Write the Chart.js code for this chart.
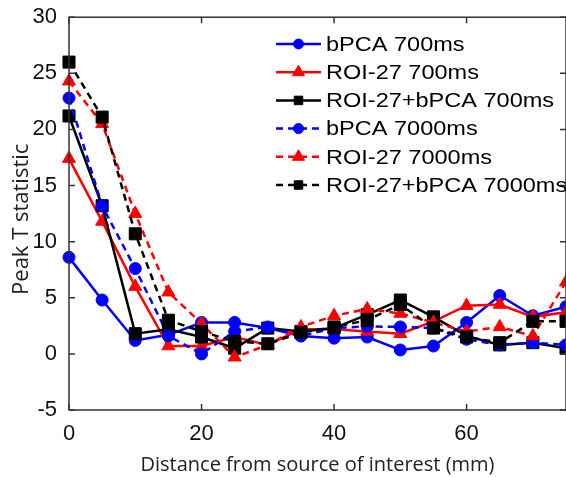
<!DOCTYPE html>
<html>
<head>
<meta charset="utf-8">
<script src="https://cdn.jsdelivr.net/npm/chart.js@4"></script>
<style>
  html, body { margin: 0; padding: 0; background: #fff; overflow: hidden; }
  #wrap { width: 600px; height: 477px; }
</style>
</head>
<body>
<div id="wrap"><canvas id="c" width="600" height="477"></canvas></div>
<script>
// values (x in mm)
const distances = [0, 5, 10, 15, 20, 25, 30, 35, 40, 45, 50, 55, 60, 65, 70, 75];
const bpca700 = [8.6, 4.8, 1.2, 1.7, 2.8, 2.8, 2.3, 1.6, 1.4, 1.5, 0.35, 0.7, 2.8, 5.2, 3.4, 4.2];
const roi700 = [17.4, 11.8, 6.0, 0.7, 0.7, 1.5, 0.8, 2.2, 2.2, 2.0, 1.8, 2.9, 4.3, 4.4, 3.3, 3.7];
const roiBpca700 = [21.2, 13.2, 1.8, 2.2, 1.5, 0.5, 2.3, 2.0, 2.3, 3.5, 4.8, 3.3, 1.6, 0.8, 1.0, 0.5];
const bpca7000 = [22.8, 13.2, 7.6, 1.6, 0.0, 2.0, 2.4, 1.6, 2.3, 2.45, 2.4, 2.3, 1.3, 0.8, 1.0, 0.8];
const roi7000 = [24.3, 20.5, 12.5, 5.5, 2.7, -0.3, 0.8, 2.4, 3.4, 4.0, 3.6, 2.8, 2.0, 2.4, 1.6, 6.4];
const roiBpca7000 = [26.0, 21.1, 10.7, 3.0, 2.0, 1.1, 0.9, 1.9, 2.4, 3.0, 4.4, 2.3, 1.5, 1.0, 2.9, 2.9];

const seriesNames = ['bPCA 700ms', 'ROI-27 700ms', 'ROI-27+bPCA 700ms',
                     'bPCA 7000ms', 'ROI-27 7000ms', 'ROI-27+bPCA 7000ms'];
const xTicks = [0, 20, 40, 60];
const yTicks = [-5, 0, 5, 10, 15, 20, 25, 30];

const BLUE = '#0000ff', RED = '#ff0000', BLACK = '#000000';
const AXIS = '#333333';
const DASH = [7, 5];

const styles = [
  { color: BLUE, point: 'circle', r: 6, dash: [] },
  { color: RED, point: 'triangle', r: 7.5, dash: [] },
  { color: BLACK, point: 'rect', r: 8.5, dash: [] },
  { color: BLUE, point: 'circle', r: 6, dash: DASH },
  { color: RED, point: 'triangle', r: 7.5, dash: DASH },
  { color: BLACK, point: 'rect', r: 8.5, dash: DASH },
];
const values = [bpca700, roi700, roiBpca700, bpca7000, roi7000, roiBpca7000];

const datasets = values.map((vals, i) => ({
  label: seriesNames[i],
  data: distances.map((d, j) => ({ x: d, y: vals[j] })),
  borderColor: styles[i].color,
  backgroundColor: styles[i].color,
  borderWidth: 2.5,
  borderDash: styles[i].dash,
  pointStyle: styles[i].point,
  pointRadius: styles[i].r,
  pointBorderWidth: 1,
  pointBorderColor: styles[i].color,
  pointBackgroundColor: styles[i].color,
  tension: 0,
  clip: false,
  order: 5 - i
}));

// box + inward tick marks like the matlab axes
const axesBox = {
  id: 'axesBox',
  afterDatasetsDraw(chart) {
    const { ctx, chartArea: a, scales } = chart;
    ctx.save();
    ctx.strokeStyle = AXIS;
    ctx.lineWidth = 1.5;
    ctx.setLineDash([]);
    ctx.strokeRect(a.left, a.top, a.right - a.left, a.bottom - a.top);
    ctx.beginPath();
    xTicks.forEach(v => {
      const x = scales.x.getPixelForValue(v);
      ctx.moveTo(x, a.bottom); ctx.lineTo(x, a.bottom - 6);
      ctx.moveTo(x, a.top); ctx.lineTo(x, a.top + 6);
    });
    yTicks.forEach(v => {
      const y = scales.y.getPixelForValue(v);
      ctx.moveTo(a.left, y); ctx.lineTo(a.left + 6, y);
      ctx.moveTo(a.right, y); ctx.lineTo(a.right - 6, y);
    });
    ctx.stroke();
    ctx.restore();
  }
};

// legend drawn inside the axes, no frame
const insideLegend = {
  id: 'insideLegend',
  afterDraw(chart) {
    const ctx = chart.ctx;
    ctx.save();
    ctx.font = '21px "Liberation Sans", Arial, sans-serif';
    ctx.textBaseline = 'middle';
    seriesNames.forEach((name, i) => {
      const y = 44 + i * 28.2;
      const s = styles[i];
      ctx.strokeStyle = s.color;
      ctx.lineWidth = 2.5;
      ctx.setLineDash(s.dash);
      ctx.beginPath();
      ctx.moveTo(276, y); ctx.lineTo(321, y);
      ctx.stroke();
      ctx.setLineDash([]);
      ctx.fillStyle = s.color;
      ctx.strokeStyle = s.color;
      ctx.lineWidth = 1;
      const r = s.point === 'rect' ? 6 : s.point === 'circle' ? 5 : 7;
      Chart.helpers.drawPoint(ctx, { pointStyle: s.point, radius: r, borderWidth: 1 }, 298.5, y);
      ctx.fillStyle = '#000';
      ctx.save();
      ctx.translate(326, y + 1);
      ctx.scale(1.12, 1);
      ctx.fillText(name, 0, 0);
      ctx.restore();
    });
    ctx.restore();
  }
};

new Chart(document.getElementById('c'), {
  type: 'line',
  data: { datasets },
  options: {
    responsive: false,
    animation: false,
    layout: { padding: { left: 0, right: 34, top: 15, bottom: 0 } },
    plugins: { legend: { display: false }, tooltip: { enabled: false } },
    scales: {
      x: {
        type: 'linear',
        min: 0,
        max: 75,
        afterBuildTicks: s => { s.ticks = xTicks.map(v => ({ value: v })); },
        afterFit: s => { s.height = 67; },
        grid: { display: false },
        border: { display: false },
        ticks: {
          color: '#111',
          padding: 3,
          maxRotation: 0,
          font: { family: '"Liberation Sans", Arial, sans-serif', size: 22 }
        },
        title: {
          display: true,
          text: 'Distance from source of interest (mm)',
          color: '#222',
          padding: { top: 0, bottom: 0 },
          font: { family: '"Open Sans", sans-serif', size: 20 }
        }
      },
      y: {
        min: -5,
        max: 30,
        afterBuildTicks: s => { s.ticks = yTicks.map(v => ({ value: v })); },
        afterFit: s => { s.width = 69; },
        grid: { display: false },
        border: { display: false },
        ticks: {
          color: '#111',
          padding: 4,
          font: { family: '"Liberation Sans", Arial, sans-serif', size: 22 }
        },
        title: {
          display: true,
          text: 'Peak T statistic  ',
          color: '#222',
          padding: { top: 9, bottom: 0 },
          font: { family: '"Open Sans", sans-serif', size: 22 }
        }
      }
    }
  },
  plugins: [axesBox, insideLegend]
});
</script>
</body>
</html>
